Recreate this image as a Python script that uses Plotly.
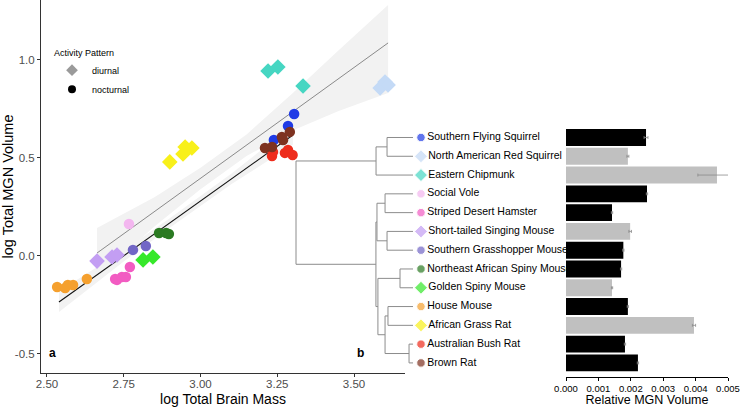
import plotly.graph_objects as go

# ---------------- data ----------------
species = ["Southern Flying Squirrel", "North American Red Squirrel", "Eastern Chipmunk",
           "Social Vole", "Striped Desert Hamster", "Short-tailed Singing Mouse",
           "Southern Grasshopper Mouse", "Northeast African Spiny Mouse", "Golden Spiny Mouse",
           "House Mouse", "African Grass Rat", "Australian Bush Rat", "Brown Rat"]
activity = ["nocturnal", "diurnal", "diurnal", "nocturnal", "nocturnal", "diurnal",
            "nocturnal", "nocturnal", "diurnal", "nocturnal", "diurnal", "nocturnal", "nocturnal"]
colors = ["#1f3be6", "#c4daf6", "#46d6c2", "#f3b6ef", "#f25cc2", "#c39ef3",
          "#7266c6", "#2b7a22", "#36e82a", "#f5a02e", "#f8f01a", "#ee2c1c", "#7e3220"]

# scatter: log total brain mass (x) vs log total MGN volume (y), per species
brain = [
    [3.305, 3.285, 3.239],
    [3.585, 3.601, 3.611],
    [3.220, 3.252, 3.334],
    [2.767],
    [2.722, 2.728, 2.744, 2.757, 2.770],
    [2.663, 2.712, 2.728],
    [2.780, 2.822],
    [2.865, 2.888, 2.897],
    [2.813, 2.845],
    [2.533, 2.559, 2.568, 2.585, 2.630],
    [2.900, 2.943, 2.950, 2.972],
    [3.233, 3.236, 3.275, 3.285, 3.300],
    [3.210, 3.233, 3.265, 3.291, 3.269],
]
mgn = [
    [0.724, 0.663, 0.592],
    [0.857, 0.888, 0.872],
    [0.944, 0.964, 0.867],
    [0.163],
    [-0.117, -0.122, -0.107, -0.107, -0.056],
    [-0.026, -0.005, 0.005],
    [0.031, 0.051],
    [0.117, 0.117, 0.112],
    [-0.020, -0.005],
    [-0.158, -0.163, -0.148, -0.148, -0.117],
    [0.480, 0.520, 0.556, 0.551],
    [0.510, 0.531, 0.526, 0.541, 0.515],
    [0.551, 0.556, 0.607, 0.633, 0.592],
]

# fitted lines with confidence bands
diurnal_fit_x = [2.663, 2.85, 3.0, 3.15, 3.3, 3.45, 3.611]
diurnal_fit_y = [0.015, 0.227, 0.396, 0.566, 0.735, 0.905, 1.087]
diurnal_hi = [0.143, 0.300, 0.450, 0.620, 0.830, 1.050, 1.280]
diurnal_lo = [-0.110, 0.150, 0.340, 0.510, 0.640, 0.740, 0.832]
nocturnal_fit_x = [2.539, 2.75, 2.9, 3.1, 3.301]
nocturnal_fit_y = [-0.235, 0.001, 0.168, 0.393, 0.617]
nocturnal_hi = [-0.180, 0.030, 0.192, 0.420, 0.667]
nocturnal_lo = [-0.286, -0.028, 0.144, 0.366, 0.567]

# relative MGN volume bars
rel_mgn = [0.00247, 0.00191, 0.00466, 0.00250, 0.00142, 0.00198, 0.00177,
           0.00170, 0.00142, 0.00191, 0.00395, 0.00182, 0.00222]
rel_err = [0.00006, 0.00003, 0.00059, 0.00002, 0.00002, 0.00004, 0.00002,
           0.00002, 0.00002, 0.00002, 0.00005, 0.00002, 0.00002]

# phylogeny: (node depth, children); tips are row indices (depth 1.0)
tree = (0.0, [
    (0.684, [(0.778, [0, 1]), 2]),
    (0.683, [
        (0.692, [(0.761, [3, 4]), (0.778, [5, 6])]),
        (0.700, [(0.889, [7, 8]), (0.761, [(0.786, [9, 10]), (0.966, [11, 12])])]),
    ]),
])

# ---------------- figure ----------------
FONT = "Liberation Sans, Arial, sans-serif"
fig = go.Figure()

# confidence bands
for fx, hi, lo in [(nocturnal_fit_x, nocturnal_hi, nocturnal_lo),
                   (diurnal_fit_x, diurnal_hi, diurnal_lo)]:
    fig.add_trace(go.Scatter(x=fx + fx[::-1], y=hi + lo[::-1], fill="toself",
                             fillcolor="#f2f2f2", line=dict(width=0),
                             mode="lines", showlegend=False, hoverinfo="skip",
                             xaxis="x", yaxis="y"))
fig.add_trace(go.Scatter(x=diurnal_fit_x, y=diurnal_fit_y, mode="lines",
                         line=dict(color="#8a8a8a", width=1), showlegend=False,
                         xaxis="x", yaxis="y"))
fig.add_trace(go.Scatter(x=nocturnal_fit_x, y=nocturnal_fit_y, mode="lines",
                         line=dict(color="#111111", width=1.1), showlegend=False,
                         xaxis="x", yaxis="y"))

symbol_of = {"diurnal": "diamond", "nocturnal": "circle"}
size_of = {"diurnal": 12, "nocturnal": 10.5}
for i, sp in enumerate(species):
    fig.add_trace(go.Scatter(x=brain[i], y=mgn[i], mode="markers", name=sp,
                             marker=dict(color=colors[i], symbol=symbol_of[activity[i]],
                                         size=size_of[activity[i]], line=dict(width=0)),
                             showlegend=False, xaxis="x", yaxis="y"))

# legend entries
fig.add_trace(go.Scatter(x=[None], y=[None], mode="markers", name="diurnal",
                         marker=dict(color="#9a9a9a", symbol="diamond", size=9),
                         xaxis="x", yaxis="y"))
fig.add_trace(go.Scatter(x=[None], y=[None], mode="markers", name="nocturnal",
                         marker=dict(color="black", symbol="circle", size=8),
                         xaxis="x", yaxis="y"))

# tree
seg_x, seg_y = [], []

def layout_node(node):
    if isinstance(node, int):
        return 1.0, float(node)
    depth, children = node
    pos = [layout_node(c) for c in children]
    ys = [p[1] for p in pos]
    seg_x.extend([depth, depth, None])
    seg_y.extend([min(ys), max(ys), None])
    for cx, cy in pos:
        seg_x.extend([depth, cx, None])
        seg_y.extend([cy, cy, None])
    return depth, sum(ys) / len(ys)

layout_node(tree)
fig.add_trace(go.Scatter(x=seg_x, y=seg_y, mode="lines",
                         line=dict(color="#8c8c8c", width=1), showlegend=False,
                         hoverinfo="skip", xaxis="x3", yaxis="y3"))
rows = list(range(len(species)))
fig.add_trace(go.Scatter(x=[1.068] * len(species), y=rows, mode="markers+text",
                         text=species, textposition="middle right",
                         textfont=dict(family=FONT, size=10.5, color="black"),
                         marker=dict(color=colors,
                                     symbol=[symbol_of[a] for a in activity],
                                     size=[10 if a == "diurnal" else 8.5 for a in activity]),
                         cliponaxis=False,
                         showlegend=False, xaxis="x3", yaxis="y3"))

# bars
bar_colors = ["#c0c0c0" if a == "diurnal" else "black" for a in activity]
fig.add_trace(go.Bar(x=rel_mgn, y=rows, orientation="h", width=0.9,
                     marker=dict(color=bar_colors, line=dict(width=0)),
                     error_x=dict(type="data", array=rel_err, color="#8a8a8a",
                                  thickness=0.8, width=1.5),
                     cliponaxis=False,
                     showlegend=False, xaxis="x2", yaxis="y2"))

tick_font = dict(family=FONT, size=11.5, color="#4d4d4d")
fig.update_layout(
    width=740, height=407,
    margin=dict(l=0, r=0, t=0, b=0, autoexpand=False),
    paper_bgcolor="white", plot_bgcolor="rgba(0,0,0,0)",
    font=dict(family=FONT),
    xaxis=dict(domain=[41 / 740, 405 / 740], range=[2.4805, 3.6661],
               tickvals=[2.5, 2.75, 3.0, 3.25, 3.5],
               ticktext=["2.50", "2.75", "3.00", "3.25", "3.50"],
               showline=True, linecolor="#333333", linewidth=1,
               ticks="outside", ticklen=3, tickcolor="#333333",
               ticklabelstandoff=-3,
               showgrid=False, zeroline=False, tickfont=tick_font,
               automargin=False,
               title=dict(text="log Total Brain Mass", standoff=5,
                          font=dict(family=FONT, size=14, color="black")),
               anchor="y"),
    yaxis=dict(domain=[34 / 407, 1.0], range=[-0.597, 1.306],
               tickvals=[-0.5, 0.0, 0.5, 1.0], ticktext=["-0.5", "0.0", "0.5", "1.0"],
               showline=True, linecolor="#333333", linewidth=1,
               ticks="outside", ticklen=3, tickcolor="#333333",
               showgrid=False, zeroline=False, tickfont=tick_font,
               automargin=False,
               title=dict(text="log Total MGN Volume", standoff=2,
                          font=dict(family=FONT, size=14.5, color="black")),
               anchor="x"),
    xaxis2=dict(domain=[566 / 740, 728 / 740], range=[0, 0.005],
                tickvals=[0, 0.001, 0.002, 0.003, 0.004, 0.005],
                ticktext=["0.000", "0.001", "0.002", "0.003", "0.004", "0.005"],
                showline=True, linecolor="black", linewidth=1,
                ticks="outside", ticklen=3, tickcolor="black",
                showgrid=False, zeroline=False, automargin=False,
                tickfont=dict(family=FONT, size=9.5, color="black"),
                title=dict(text="Relative MGN Volume", standoff=3,
                           font=dict(family=FONT, size=12.5, color="black")),
                anchor="y2"),
    yaxis2=dict(domain=[30 / 407, 279 / 407], range=[12.75, -0.505],
                showline=False, showticklabels=False, ticks="", showgrid=False,
                zeroline=False, anchor="x2", automargin=False),
    xaxis3=dict(domain=[290 / 740, 560 / 740], range=[-0.0513, 2.256],
                visible=False, anchor="y3", automargin=False),
    yaxis3=dict(domain=[30 / 407, 279 / 407], range=[12.75, -0.505],
                visible=False, anchor="x3", automargin=False),
    legend=dict(x=52 / 740, y=1 - 44 / 407, xanchor="left", yanchor="top",
                bgcolor="rgba(0,0,0,0)",
                title=dict(text="Activity Pattern", font=dict(family=FONT, size=9, color="black")),
                font=dict(family=FONT, size=9, color="black"),
                tracegroupgap=0, itemsizing="trace", itemwidth=30),
    annotations=[
        dict(text="<b>a</b>", x=47 / 740, y=1 - 362 / 407, xref="paper", yref="paper",
             showarrow=False, font=dict(family=FONT, size=12, color="black")),
        dict(text="<b>b</b>", x=360 / 740, y=1 - 362 / 407, xref="paper", yref="paper",
             showarrow=False, font=dict(family=FONT, size=12, color="black")),
    ],
)

fig.write_html("out.html", config={"displayModeBar": False},
               post_script="document.body.style.margin='0';document.body.style.padding='0';document.body.style.overflow='hidden';")
